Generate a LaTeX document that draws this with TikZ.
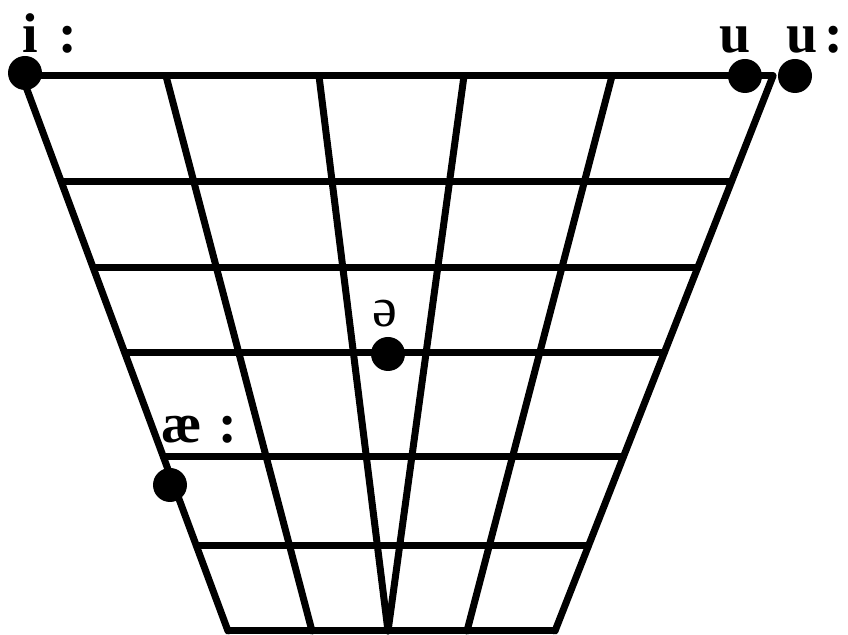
\documentclass[tikz,border=0pt]{standalone}
\usepackage{fontspec}
\setmainfont{Liberation Serif}
\usetikzlibrary{calc}
\begin{document}
\begin{tikzpicture}[x=0.5pt,y=-0.5pt,
  gridline/.style={black, line width=3.5pt, line cap=round},
  vowel/.style={circle, fill=black, inner sep=0pt, minimum size=17pt},
  ipa/.style={font=\fontsize{28}{28}\selectfont\bfseries, inner sep=0pt, anchor=base west}]
\useasboundingbox (0,0) rectangle (848,635);

% 梯形的四个角
\coordinate (tl) at (22,76);
\coordinate (tr) at (773,76);
\coordinate (bl) at (228,631);
\coordinate (br) at (555,631);

% 竖线
\foreach \xt/\xb in {22/228, 166/312, 319/388, 464/388, 612/467, 773/555}
  \draw[gridline] (\xt,76) -- (\xb,631);

% 横线
\foreach \yy in {76,182,268,353,457,546,631}
  \draw[gridline] ($(tl)!{(\yy-76)/555}!(bl)$) -- ($(tr)!{(\yy-76)/555}!(br)$);

% 元音点
\node[vowel] (i) at (25,73) {};
\node[vowel] (u1) at (745,76) {};
\node[vowel] (u2) at (795,76) {};
\node[vowel] (schwa) at (388,354) {};
\node[vowel] (ae) at (170,485) {};

% 音标
\node[ipa] (li) at (22,53) {i\hspace{.37em}:};
\node[ipa] (lu1) at (719,53) {u};
\node[ipa] (lu2) at (786,53) {u\hspace{.12em}:};
\node[ipa, font=\fontsize{28}{28}\selectfont] (lschwa) at (372,327) {ə};
\node[ipa] (lae) at (161,443) {æ\hspace{.29em}:};

\end{tikzpicture}
\end{document}
